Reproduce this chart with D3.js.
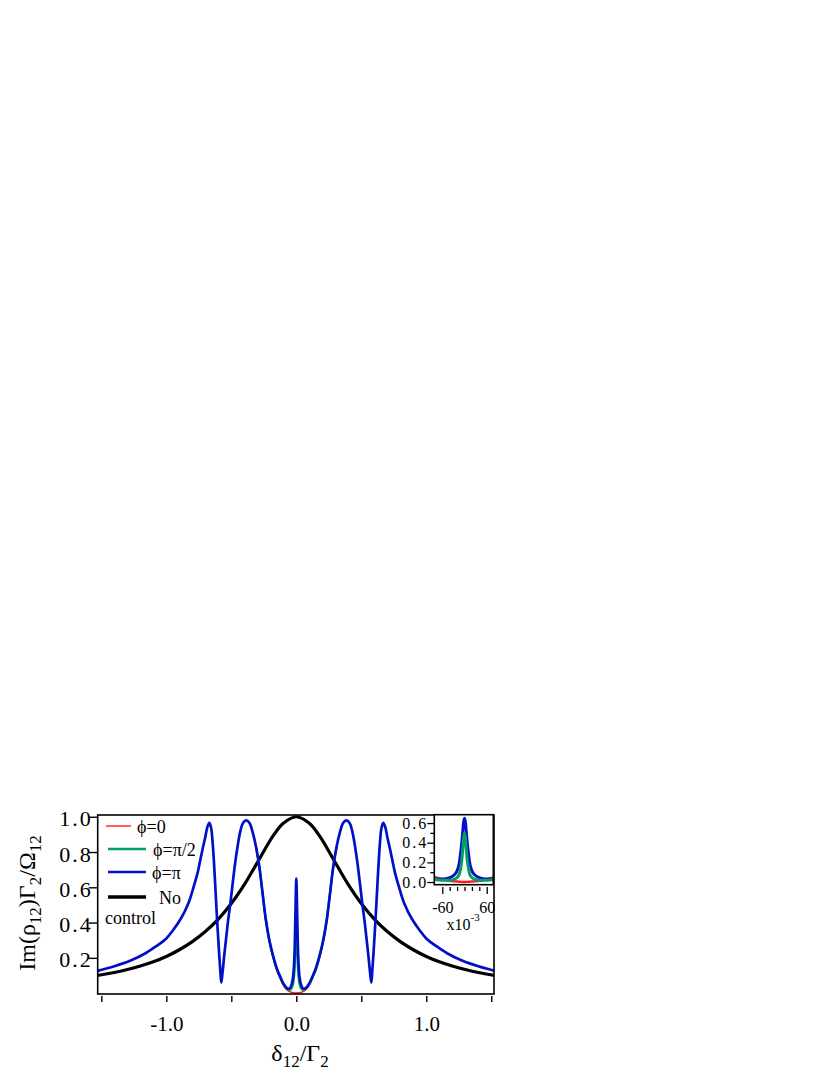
<!DOCTYPE html>
<html>
<head>
<meta charset="utf-8">
<script src="https://cdn.jsdelivr.net/npm/d3@7"></script>
<style>
  body { margin: 0; background: #fff; }
  svg { display: block; }
  text { font-family: "Liberation Serif", "Times New Roman", serif; fill: #000; }
</style>
</head>
<body>
<div id="chart"></div>
<script>
// main panel, detuning delta12/Gamma2
var deltaMain = [-1.53, -1.4, -1.27, -1.16, -1.08, -1.0, -0.95, -0.89, -0.83, -0.785, -0.76, -0.74, -0.72, -0.70, -0.685,
  -0.669, -0.655, -0.645, -0.635, -0.625, -0.615, -0.605, -0.595, -0.585, -0.577, -0.567, -0.555, -0.54, -0.525, -0.507,
  -0.49, -0.47, -0.45, -0.43, -0.41, -0.385, -0.36, -0.335, -0.31, -0.285, -0.26, -0.235, -0.21, -0.18, -0.15, -0.125, -0.1,
  -0.075, -0.055, -0.04, -0.025, -0.015, -0.008, -0.004, 0, 0.004, 0.008, 0.015, 0.025, 0.04, 0.055, 0.075, 0.1, 0.125, 0.15,
  0.18, 0.21, 0.235, 0.26, 0.285, 0.31, 0.335, 0.36, 0.385, 0.41, 0.43, 0.45, 0.47, 0.49, 0.507, 0.525, 0.54, 0.555, 0.567,
  0.577, 0.585, 0.595, 0.605, 0.615, 0.625, 0.635, 0.645, 0.655, 0.669, 0.685, 0.70, 0.72, 0.74, 0.76, 0.785,
  0.83, 0.89, 0.95, 1.0, 1.08, 1.16, 1.27, 1.4, 1.53];

var phiPi = [0.126, 0.152, 0.186, 0.226, 0.265, 0.31, 0.355, 0.42, 0.51, 0.615, 0.68, 0.75, 0.82, 0.885, 0.94,
  0.965, 0.935, 0.865, 0.76, 0.63, 0.49, 0.36, 0.24, 0.13, 0.06, 0.12, 0.21, 0.31, 0.41, 0.51,
  0.62, 0.74, 0.84, 0.92, 0.965, 0.98, 0.965, 0.91, 0.83, 0.72, 0.57, 0.42, 0.31, 0.215, 0.14, 0.095, 0.055,
  0.03, 0.025, 0.04, 0.09, 0.20, 0.40, 0.55, 0.65, 0.55, 0.40, 0.20, 0.09, 0.04, 0.025, 0.03, 0.055, 0.095, 0.14,
  0.215, 0.31, 0.42, 0.57, 0.72, 0.83, 0.91, 0.965, 0.98, 0.965, 0.92, 0.84, 0.74, 0.62, 0.51, 0.41, 0.31, 0.21, 0.12,
  0.06, 0.13, 0.24, 0.36, 0.49, 0.63, 0.76, 0.865, 0.935, 0.965, 0.94, 0.885, 0.82, 0.75, 0.68, 0.615,
  0.51, 0.42, 0.355, 0.31, 0.265, 0.226, 0.186, 0.152, 0.126];

// phi=0 and phi=pi/2 only differ from phi=pi around the centre
var deltaCenter = [-0.31, -0.285, -0.26, -0.235, -0.21, -0.18, -0.15, -0.125, -0.1, -0.075, -0.055, -0.04, -0.025, -0.015,
  -0.008, -0.004, 0, 0.004, 0.008, 0.015, 0.025, 0.04, 0.055, 0.075, 0.1, 0.125, 0.15, 0.18, 0.21, 0.235, 0.26, 0.285, 0.31];
var phiZero = [0.83, 0.715, 0.56, 0.41, 0.30, 0.205, 0.13, 0.085, 0.045, 0.02, 0.01, 0.005, 0.003, 0.002,
  0.001, 0.001, 0.0, 0.001, 0.001, 0.002, 0.003, 0.005, 0.01, 0.02, 0.045, 0.085, 0.13, 0.205, 0.30, 0.41, 0.56, 0.715, 0.83];
var phiHalf = [0.83, 0.72, 0.57, 0.42, 0.31, 0.21, 0.135, 0.09, 0.05, 0.025, 0.018, 0.022, 0.05, 0.11,
  0.23, 0.38, 0.5, 0.38, 0.23, 0.11, 0.05, 0.022, 0.018, 0.025, 0.05, 0.09, 0.135, 0.21, 0.31, 0.42, 0.57, 0.72, 0.83];

var deltaNo = [-1.53, -1.4, -1.3, -1.2, -1.1, -1.0, -0.9, -0.8, -0.7, -0.6, -0.5, -0.4, -0.3, -0.18, -0.1, 0,
  0.1, 0.18, 0.3, 0.4, 0.5, 0.6, 0.7, 0.8, 0.9, 1.0, 1.1, 1.2, 1.3, 1.4, 1.53];
var noControl = [0.10, 0.117, 0.134, 0.154, 0.178, 0.208, 0.246, 0.292, 0.349, 0.42, 0.508, 0.615, 0.74, 0.89, 0.963, 1.0,
  0.963, 0.89, 0.74, 0.615, 0.508, 0.42, 0.349, 0.292, 0.246, 0.208, 0.178, 0.154, 0.134, 0.117, 0.10];

// inset, detuning in units of 1e-3
var insetDelta = [-82, -70, -55, -40, -30, -22, -16, -12, -8, -5, -2, 0, 2, 5, 8, 12, 16, 22, 30, 40, 55, 70, 78];
var insetPhiPi = [0.033, 0.03, 0.032, 0.045, 0.065, 0.10, 0.16, 0.25, 0.38, 0.50, 0.62, 0.65, 0.62, 0.50, 0.38, 0.25,
  0.16, 0.10, 0.065, 0.045, 0.032, 0.03, 0.032];
var insetPhiHalf = [0.026, 0.022, 0.018, 0.018, 0.025, 0.04, 0.065, 0.11, 0.20, 0.32, 0.46, 0.50, 0.46, 0.32, 0.20, 0.11,
  0.065, 0.04, 0.025, 0.018, 0.018, 0.022, 0.025];
var insetPhiZero = [0.052, 0.04, 0.022, 0.012, 0.008, 0.006, 0.004, 0.003, 0.002, 0.001, 0.0, 0.0, 0.0, 0.001, 0.002, 0.003,
  0.004, 0.006, 0.008, 0.012, 0.022, 0.04, 0.048];

var xTicks = [-1.5, -1.0, -0.5, 0, 0.5, 1.0, 1.5];
var xTickLabels = ['', '-1.0', '', '0.0', '', '1.0', ''];
var yTicks = [0.2, 0.4, 0.6, 0.8, 1.0];
var yTickLabels = ['0.2', '0.4', '0.6', '0.8', '1.0'];
var insetYMajor = [0, 0.2, 0.4, 0.6];
var insetYLabels = ['0.0', '0.2', '0.4', '0.6'];
var insetYMinor = [0.1, 0.3, 0.5];
var insetXMajor = [-60, 60];
var insetXLabels = ['-60', '60'];
var insetXMinor = [-40, -20, 0, 20, 40];

var legendLabels = ['\u03D5=0', '\u03D5=\u03C0/2', '\u03D5=\u03C0', 'No'];

var SERIF = '"Liberation Serif", "Times New Roman", serif';
var RED = '#ff1a1a', GREEN = '#00a060', BLUE = '#0010c8', BLACK = '#000';

var svg = d3.select('#chart').append('svg').attr('width', 830).attr('height', 1075)
  .attr('font-family', SERIF);

var x = d3.scaleLinear().domain([-1.528, 1.521]).range([97.7, 494]);
var y = d3.scaleLinear().domain([-0.005, 1.01]).range([994, 815]);

svg.append('clipPath').attr('id', 'mainClip').append('rect')
  .attr('x', 97.7).attr('y', 815).attr('width', 396.3).attr('height', 179);

function drawCurve(g, xs, ys, sx, sy, color, width) {
  var line = d3.line()
    .x(function(d) { return sx(d[0]); })
    .y(function(d) { return sy(d[1]); })
    .curve(d3.curveCatmullRom.alpha(0.5));
  g.append('path')
    .datum(d3.zip(xs, ys))
    .attr('d', line)
    .attr('fill', 'none')
    .attr('stroke', color)
    .attr('stroke-width', width)
    .attr('stroke-linejoin', 'round');
}

var plot = svg.append('g').attr('clip-path', 'url(#mainClip)');
drawCurve(plot, deltaNo, noControl, x, y, BLACK, 3.2);
drawCurve(plot, deltaCenter, phiZero, x, y, RED, 1.6);
drawCurve(plot, deltaCenter, phiHalf, x, y, GREEN, 2.2);
drawCurve(plot, deltaMain, phiPi, x, y, BLUE, 2.7);

svg.append('rect')
  .attr('x', 97.7).attr('y', 815).attr('width', 396.3).attr('height', 179)
  .attr('fill', 'none').attr('stroke', '#000').attr('stroke-width', 1.6);

// y axis
var yAxis = svg.append('g').attr('transform', 'translate(97.7,0)')
  .call(d3.axisLeft(y).tickValues(yTicks).tickSize(9)
    .tickFormat(function(d, i) { return yTickLabels[i]; }));
yAxis.attr('font-family', SERIF);
yAxis.select('.domain').remove();
yAxis.selectAll('line').attr('stroke', '#000').attr('stroke-width', 1.4);
yAxis.selectAll('text')
  .attr('x', -5).attr('dy', 9)
  .attr('font-size', 22).attr('letter-spacing', 2)
  .attr('font-family', SERIF);

// x axis, standing off below the frame
var xAxis = svg.append('g').attr('transform', 'translate(0,996)')
  .call(d3.axisBottom(x).tickValues(xTicks).tickSize(6)
    .tickFormat(function(d, i) { return xTickLabels[i]; }));
xAxis.attr('font-family', SERIF);
xAxis.select('.domain').remove();
xAxis.selectAll('line').attr('stroke', '#000').attr('stroke-width', 1.4);
xAxis.selectAll('text')
  .attr('y', 35).attr('dy', 0)
  .attr('font-size', 21)
  .attr('font-family', SERIF);

// axis titles
var yTitle = svg.append('text')
  .attr('transform', 'translate(35,903) rotate(-90)')
  .attr('text-anchor', 'middle')
  .attr('font-size', 24);
yTitle.append('tspan').text('Im(\u03C1');
yTitle.append('tspan').attr('font-size', 17).attr('dy', 6).text('12');
yTitle.append('tspan').attr('dy', -6).text(')\u0393');
yTitle.append('tspan').attr('font-size', 17).attr('dy', 6).text('2');
yTitle.append('tspan').attr('dy', -6).text('/\u03A9');
yTitle.append('tspan').attr('font-size', 17).attr('dy', 6).text('12');

var xTitle = svg.append('text')
  .attr('x', 300).attr('y', 1061)
  .attr('text-anchor', 'middle')
  .attr('font-size', 24);
xTitle.append('tspan').text('\u03B4');
xTitle.append('tspan').attr('font-size', 17).attr('dy', 6).text('12');
xTitle.append('tspan').attr('dy', -6).text('/\u0393');
xTitle.append('tspan').attr('font-size', 17).attr('dy', 6).text('2');

// legend
var legend = svg.append('g');
var legendColors = [RED, GREEN, BLUE, BLACK];
var legendWidths = [1.4, 2.5, 2.7, 3.5];
var legendLineX = [[106, 131], [108, 146], [108, 146], [108, 146]];
var legendTextX = [137, 153, 152, 159];
var legendY = [826, 849, 872, 897];
legendLabels.forEach(function(label, i) {
  legend.append('line')
    .attr('x1', legendLineX[i][0]).attr('x2', legendLineX[i][1])
    .attr('y1', legendY[i]).attr('y2', legendY[i])
    .attr('stroke', legendColors[i]).attr('stroke-width', legendWidths[i]);
  legend.append('text')
    .attr('x', legendTextX[i]).attr('y', legendY[i] + 6.5)
    .attr('font-size', 18).attr('font-family', SERIF)
    .text(label);
});
legend.append('text').attr('x', 105).attr('y', 923.5)
  .attr('font-size', 18).attr('font-family', SERIF).text('control');

// inset
var xi = d3.scaleLinear().domain([-81.6, 77.8]).range([434.3, 493.3]);
var yi = d3.scaleLinear().domain([-0.027, 0.685]).range([884.7, 814.7]);

svg.append('rect')
  .attr('x', 434.3).attr('y', 814.7).attr('width', 59).attr('height', 70)
  .attr('fill', '#fff');
svg.append('clipPath').attr('id', 'insetClip').append('rect')
  .attr('x', 434.3).attr('y', 814.7).attr('width', 59).attr('height', 70);

var inset = svg.append('g').attr('clip-path', 'url(#insetClip)');
drawCurve(inset, insetDelta, insetPhiZero, xi, yi, RED, 2.4);
drawCurve(inset, insetDelta, insetPhiPi, xi, yi, BLUE, 3);
drawCurve(inset, insetDelta, insetPhiHalf, xi, yi, GREEN, 3);

svg.append('rect')
  .attr('x', 434.3).attr('y', 814.7).attr('width', 59).attr('height', 70)
  .attr('fill', 'none').attr('stroke', '#000').attr('stroke-width', 1.6);

var iyMajor = svg.append('g').attr('transform', 'translate(434.3,0)')
  .call(d3.axisLeft(yi).tickValues(insetYMajor).tickSize(7)
    .tickFormat(function(d, i) { return insetYLabels[i]; }));
iyMajor.select('.domain').remove();
iyMajor.selectAll('line').attr('stroke', '#000').attr('stroke-width', 1.3);
iyMajor.selectAll('text')
  .attr('x', -6).attr('dy', 5)
  .attr('font-size', 16).attr('letter-spacing', 2)
  .attr('font-family', SERIF);

var iyMinor = svg.append('g').attr('transform', 'translate(434.3,0)')
  .call(d3.axisLeft(yi).tickValues(insetYMinor).tickSize(4).tickFormat(''));
iyMinor.select('.domain').remove();
iyMinor.selectAll('line').attr('stroke', '#000').attr('stroke-width', 1.3);

var ixMajor = svg.append('g').attr('transform', 'translate(0,887)')
  .call(d3.axisBottom(xi).tickValues(insetXMajor).tickSize(7)
    .tickFormat(function(d, i) { return insetXLabels[i]; }));
ixMajor.select('.domain').remove();
ixMajor.selectAll('line').attr('stroke', '#000').attr('stroke-width', 1.3);
ixMajor.selectAll('text')
  .attr('y', 26).attr('dy', 0)
  .attr('font-size', 16)
  .attr('font-family', SERIF);

var ixMinor = svg.append('g').attr('transform', 'translate(0,887)')
  .call(d3.axisBottom(xi).tickValues(insetXMinor).tickSize(4).tickFormat(''));
ixMinor.select('.domain').remove();
ixMinor.selectAll('line').attr('stroke', '#000').attr('stroke-width', 1.3);

var scaleNote = svg.append('text').attr('x', 446.5).attr('y', 930).attr('font-size', 16);
scaleNote.append('tspan').text('x10');
scaleNote.append('tspan').attr('font-size', 11).attr('dy', -9).text('-3');
</script>
</body>
</html>
